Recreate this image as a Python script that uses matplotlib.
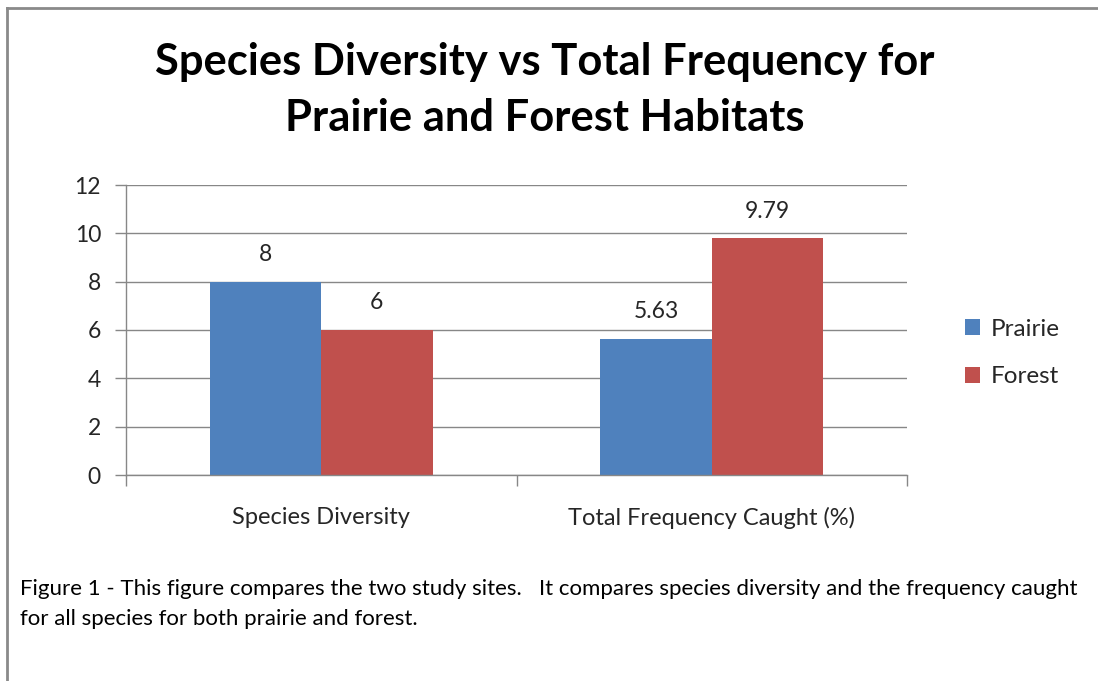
import matplotlib
matplotlib.use("Agg")
import matplotlib.pyplot as plt
from matplotlib.lines import Line2D
from matplotlib.patches import Patch
import numpy as np

categories = ["Species Diversity", "Total Frequency Caught (%)"]
prairie = [8, 5.63]
forest = [6, 9.79]
prairie_labels = ["8", "5.63"]
forest_labels = ["6", "9.79"]
yticks = [0, 2, 4, 6, 8, 10, 12]
title = "Species Diversity vs Total Frequency for\nPrairie and Forest Habitats"
caption = ("Figure 1 - This figure compares the two study sites.   It compares species diversity and the frequency caught\n"
           "for all species for both prairie and forest.")

BLUE = "#4F81BD"
RED = "#C0504D"
GRID = "#878787"
TXT = "#262626"
FS = 16.5

plt.rcParams['font.family'] = ['Lato', 'DejaVu Sans']

fig = plt.figure(figsize=(10.98, 6.81), dpi=100)
ax = fig.add_axes([126/1098, 1-475/681, (907-126)/1098, (475-185)/681])

x = np.arange(len(categories))
w = 0.285
b1 = ax.bar(x - w/2, prairie, w, color=BLUE, label="Prairie")
b2 = ax.bar(x + w/2, forest, w, color=RED, label="Forest")

for rect, lab in zip(b1, prairie_labels):
    ax.annotate(lab, (rect.get_x() + rect.get_width()/2, rect.get_height()),
                xytext=(0, 12), textcoords="offset points", ha="center", va="bottom",
                fontsize=FS, color=TXT)
for rect, lab in zip(b2, forest_labels):
    ax.annotate(lab, (rect.get_x() + rect.get_width()/2, rect.get_height()),
                xytext=(0, 12), textcoords="offset points", ha="center", va="bottom",
                fontsize=FS, color=TXT)

ax.set_xlim(-0.5, 1.5)
ax.set_ylim(0, 12)
ax.set_yticks(yticks)
ax.set_yticklabels([str(t) for t in yticks], fontsize=FS, color=TXT)
ax.yaxis.grid(True, color=GRID, linewidth=1)
ax.set_axisbelow(True)
ax.tick_params(axis='y', length=8, width=1, color=GRID, pad=10, direction='out')

ax.set_xticks(x)
ax.set_xticklabels(categories, fontsize=17, color=TXT)
ax.tick_params(axis='x', which='major', length=0, pad=23)
ax.set_xticks([-0.5, 0.5, 1.5], minor=True)
ax.tick_params(axis='x', which='minor', length=8, width=1, color=GRID, direction='out')

for s in ['top', 'right']:
    ax.spines[s].set_visible(False)
for s in ['left', 'bottom']:
    ax.spines[s].set_color(GRID)
    ax.spines[s].set_linewidth(1)

handles = [Patch(facecolor=BLUE, edgecolor='none', label='Prairie'),
           Patch(facecolor=RED, edgecolor='none', label='Forest')]
fig.legend(handles=handles, loc='center left', bbox_to_anchor=(965/1098, 1-353/681),
           frameon=False, fontsize=17.5, handlelength=0.6, handleheight=0.6,
           handletextpad=0.45, labelspacing=1.1, labelcolor=TXT, borderpad=0,
           borderaxespad=0)

fig.text(545/1098, 1-90/681, title, ha='center', va='center', fontsize=31.3,
         fontweight='bold', color='black', linespacing=1.5)

fig.text(20/1098, 1-604/681, caption, ha='left', va='center', fontsize=16,
         color='black', linespacing=1.65)

# outer frame (top and left edges visible)
fig.add_artist(Line2D([7/1098, 7/1098], [0, 1-8/681], transform=fig.transFigure,
                      color='#8a8a8a', linewidth=2))
fig.add_artist(Line2D([7/1098, 1], [1-8/681, 1-8/681], transform=fig.transFigure,
                      color='#8a8a8a', linewidth=2))

fig.savefig("out.png", dpi=100)
